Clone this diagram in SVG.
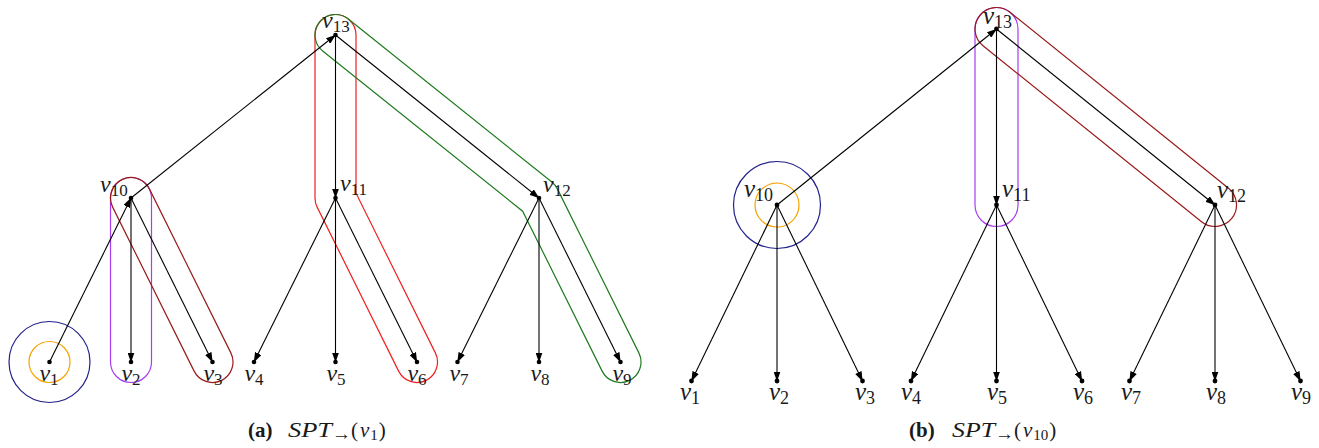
<svg xmlns="http://www.w3.org/2000/svg" width="1319" height="448" viewBox="0 0 1319 448">
<style>
.e{stroke:#000;stroke-width:1.1;fill:none;marker-end:url(#ah)}
.dot{fill:#000}
.lbl{font-family:"Liberation Serif",serif;font-size:24px;font-style:italic;fill:#1a1a1a}
.lblr{font-family:"Liberation Serif",serif;font-size:25px;font-style:italic;fill:#1a1a1a}
.sub{font-style:normal;font-size:17px}
.subr{font-style:normal;font-size:18px}
.h{fill:none;stroke-width:1.2}
.blue{stroke:#22228c}
.orange{stroke:#f5a300}
.purple{stroke:#a73df0}
.dred{stroke:#9a1a1a}
.red{stroke:#f02020}
.green{stroke:#1f7a1f}
.cap{font-family:"Liberation Serif",serif;font-size:21px;fill:#1a1a1a}
.arr{font-size:19px}
.cs{font-size:15px}
.it{font-style:italic}
.bf{font-weight:bold}
</style>
<defs>
<marker id="ah" viewBox="0 0 10 7" refX="9.5" refY="3.5" markerWidth="10" markerHeight="7" markerUnits="userSpaceOnUse" orient="auto">
<path d="M0,0 L10,3.5 L0,7 Z" fill="#000"/>
</marker>
</defs>

<!-- hulls -->
<g id="hulls-a">
<circle class="h blue" cx="49.5" cy="362" r="40.5"/>
<circle class="h orange" cx="49.5" cy="362" r="20.5"/>
<rect class="h purple" x="110.5" y="177.5" width="41" height="205" rx="20.5"/>
<rect class="h dred" x="-20.5" y="-20.5" width="224.13" height="41" rx="20.5" transform="translate(131 198) rotate(63.58)"/>
<path class="h red" d="M315,35 A20.5,20.5 0 0 1 356,35 L356,193.2 L435.36,352.88 A20.5,20.5 0 0 1 398.64,371.12 L317.14,207.12 A20.5,20.5 0 0 1 315,198 Z"/>
<path class="h green" d="M322.68,51 A20.5,20.5 0 0 1 348.32,19 L551.82,182 A20.5,20.5 0 0 1 557.36,188.88 L638.86,352.88 A20.5,20.5 0 0 1 602.14,371.12 L522.65,211.16 Z"/>
</g>
<g id="hulls-b">
<circle class="h blue" cx="777" cy="205" r="43.5"/>
<circle class="h orange" cx="777" cy="205" r="22"/>
<rect class="h purple" x="975" y="7.5" width="43" height="219" rx="21.5"/>
<rect class="h dred" x="-21.5" y="-21.5" width="323.57" height="43" rx="21.5" transform="translate(996.5 29) rotate(38.85)"/>
</g>

<!-- connectors -->
<g id="connectors">
<line class="e" x1="49.5" y1="362" x2="131" y2="198"/>
<line class="e" x1="131" y1="198" x2="335.5" y2="35"/>
<line class="e" x1="335.5" y1="35" x2="335.5" y2="198"/>
<line class="e" x1="335.5" y1="35" x2="539" y2="198"/>
<line class="e" x1="131" y1="198" x2="131" y2="362"/>
<line class="e" x1="131" y1="198" x2="212.5" y2="362"/>
<line class="e" x1="335.5" y1="198" x2="254" y2="362"/>
<line class="e" x1="335.5" y1="198" x2="335.5" y2="362"/>
<line class="e" x1="335.5" y1="198" x2="417" y2="362"/>
<line class="e" x1="539" y1="198" x2="457.5" y2="362"/>
<line class="e" x1="539" y1="198" x2="539" y2="362"/>
<line class="e" x1="539" y1="198" x2="620.5" y2="362"/>

<line class="e" x1="777" y1="205" x2="996.5" y2="29"/>
<line class="e" x1="996.5" y1="29" x2="996.5" y2="205"/>
<line class="e" x1="996.5" y1="29" x2="1215" y2="205"/>
<line class="e" x1="777" y1="205" x2="691.5" y2="381"/>
<line class="e" x1="777" y1="205" x2="777" y2="381"/>
<line class="e" x1="777" y1="205" x2="862.5" y2="381"/>
<line class="e" x1="996.5" y1="205" x2="911" y2="381"/>
<line class="e" x1="996.5" y1="205" x2="996.5" y2="381"/>
<line class="e" x1="996.5" y1="205" x2="1082" y2="381"/>
<line class="e" x1="1215" y1="205" x2="1129.5" y2="381"/>
<line class="e" x1="1215" y1="205" x2="1215" y2="381"/>
<line class="e" x1="1215" y1="205" x2="1300.5" y2="381"/>
</g>

<!-- nodes, tree (a) -->
<g id="a-v13"><circle class="dot" cx="335.5" cy="35" r="2.3"/><text class="lbl" x="322" y="28">v<tspan class="sub" dy="4">13</tspan></text></g>
<g id="a-v10"><circle class="dot" cx="131" cy="198" r="2.3"/><text class="lbl" x="100" y="192">v<tspan class="sub" dy="4">10</tspan></text></g>
<g id="a-v11"><circle class="dot" cx="335.5" cy="198" r="2.3"/><text class="lbl" x="340" y="191">v<tspan class="sub" dy="4">11</tspan></text></g>
<g id="a-v12"><circle class="dot" cx="539" cy="198" r="2.3"/><text class="lbl" x="543" y="192">v<tspan class="sub" dy="4">12</tspan></text></g>
<g id="a-v1"><circle class="dot" cx="49.5" cy="362" r="2.3"/><text class="lbl" x="49" y="381" text-anchor="middle">v<tspan class="sub" dy="4">1</tspan></text></g>
<g id="a-v2"><circle class="dot" cx="131" cy="362" r="2.3"/><text class="lbl" x="131" y="381" text-anchor="middle">v<tspan class="sub" dy="4">2</tspan></text></g>
<g id="a-v3"><circle class="dot" cx="212.5" cy="362" r="2.3"/><text class="lbl" x="213" y="381" text-anchor="middle">v<tspan class="sub" dy="4">3</tspan></text></g>
<g id="a-v4"><circle class="dot" cx="254" cy="362" r="2.3"/><text class="lbl" x="254" y="381" text-anchor="middle">v<tspan class="sub" dy="4">4</tspan></text></g>
<g id="a-v5"><circle class="dot" cx="335.5" cy="362" r="2.3"/><text class="lbl" x="336" y="381" text-anchor="middle">v<tspan class="sub" dy="4">5</tspan></text></g>
<g id="a-v6"><circle class="dot" cx="417" cy="362" r="2.3"/><text class="lbl" x="417" y="381" text-anchor="middle">v<tspan class="sub" dy="4">6</tspan></text></g>
<g id="a-v7"><circle class="dot" cx="457.5" cy="362" r="2.3"/><text class="lbl" x="459" y="381" text-anchor="middle">v<tspan class="sub" dy="4">7</tspan></text></g>
<g id="a-v8"><circle class="dot" cx="539" cy="362" r="2.3"/><text class="lbl" x="540" y="381" text-anchor="middle">v<tspan class="sub" dy="4">8</tspan></text></g>
<g id="a-v9"><circle class="dot" cx="620.5" cy="362" r="2.3"/><text class="lbl" x="622" y="381" text-anchor="middle">v<tspan class="sub" dy="4">9</tspan></text></g>

<!-- nodes, tree (b) -->
<g id="b-v13"><circle class="dot" cx="996.5" cy="29" r="2.4"/><text class="lblr" x="983" y="24">v<tspan class="subr" dy="4">13</tspan></text></g>
<g id="b-v10"><circle class="dot" cx="777" cy="205" r="2.4"/><text class="lblr" x="744" y="197">v<tspan class="subr" dy="4">10</tspan></text></g>
<g id="b-v11"><circle class="dot" cx="996.5" cy="205" r="2.4"/><text class="lblr" x="1002" y="197">v<tspan class="subr" dy="4">11</tspan></text></g>
<g id="b-v12"><circle class="dot" cx="1215" cy="205" r="2.4"/><text class="lblr" x="1217" y="198">v<tspan class="subr" dy="4">12</tspan></text></g>
<g id="b-v1"><circle class="dot" cx="691.5" cy="381" r="2.4"/><text class="lblr" x="690" y="400" text-anchor="middle">v<tspan class="subr" dy="4">1</tspan></text></g>
<g id="b-v2"><circle class="dot" cx="777" cy="381" r="2.4"/><text class="lblr" x="779" y="400" text-anchor="middle">v<tspan class="subr" dy="4">2</tspan></text></g>
<g id="b-v3"><circle class="dot" cx="862.5" cy="381" r="2.4"/><text class="lblr" x="865" y="400" text-anchor="middle">v<tspan class="subr" dy="4">3</tspan></text></g>
<g id="b-v4"><circle class="dot" cx="911" cy="381" r="2.4"/><text class="lblr" x="911" y="400" text-anchor="middle">v<tspan class="subr" dy="4">4</tspan></text></g>
<g id="b-v5"><circle class="dot" cx="996.5" cy="381" r="2.4"/><text class="lblr" x="997" y="400" text-anchor="middle">v<tspan class="subr" dy="4">5</tspan></text></g>
<g id="b-v6"><circle class="dot" cx="1082" cy="381" r="2.4"/><text class="lblr" x="1083" y="400" text-anchor="middle">v<tspan class="subr" dy="4">6</tspan></text></g>
<g id="b-v7"><circle class="dot" cx="1129.5" cy="381" r="2.4"/><text class="lblr" x="1131" y="400" text-anchor="middle">v<tspan class="subr" dy="4">7</tspan></text></g>
<g id="b-v8"><circle class="dot" cx="1215" cy="381" r="2.4"/><text class="lblr" x="1216" y="400" text-anchor="middle">v<tspan class="subr" dy="4">8</tspan></text></g>
<g id="b-v9"><circle class="dot" cx="1300.5" cy="381" r="2.4"/><text class="lblr" x="1301" y="400" text-anchor="middle">v<tspan class="subr" dy="4">9</tspan></text></g>

<!-- captions -->
<g id="caption-a">
<text class="cap bf" x="248" y="437">(a)</text>
<text class="cap it" x="288" y="437" textLength="44" lengthAdjust="spacingAndGlyphs">SPT</text>
<text class="cap" x="332" y="440"><tspan class="arr">→</tspan><tspan x="351" dy="-3">(</tspan><tspan class="it" dx="2">v</tspan><tspan class="cs" dy="3" dx="1">1</tspan><tspan dy="-3" dx="1">)</tspan></text>
</g>
<g id="caption-b">
<text class="cap bf" x="909" y="437">(b)</text>
<text class="cap it" x="952" y="437" textLength="43" lengthAdjust="spacingAndGlyphs">SPT</text>
<text class="cap" x="995" y="440"><tspan class="arr">→</tspan><tspan x="1014" dy="-3">(</tspan><tspan class="it" dx="2">v</tspan><tspan class="cs" dy="3" dx="1">10</tspan><tspan dy="-3" dx="1">)</tspan></text>
</g>
</svg>
